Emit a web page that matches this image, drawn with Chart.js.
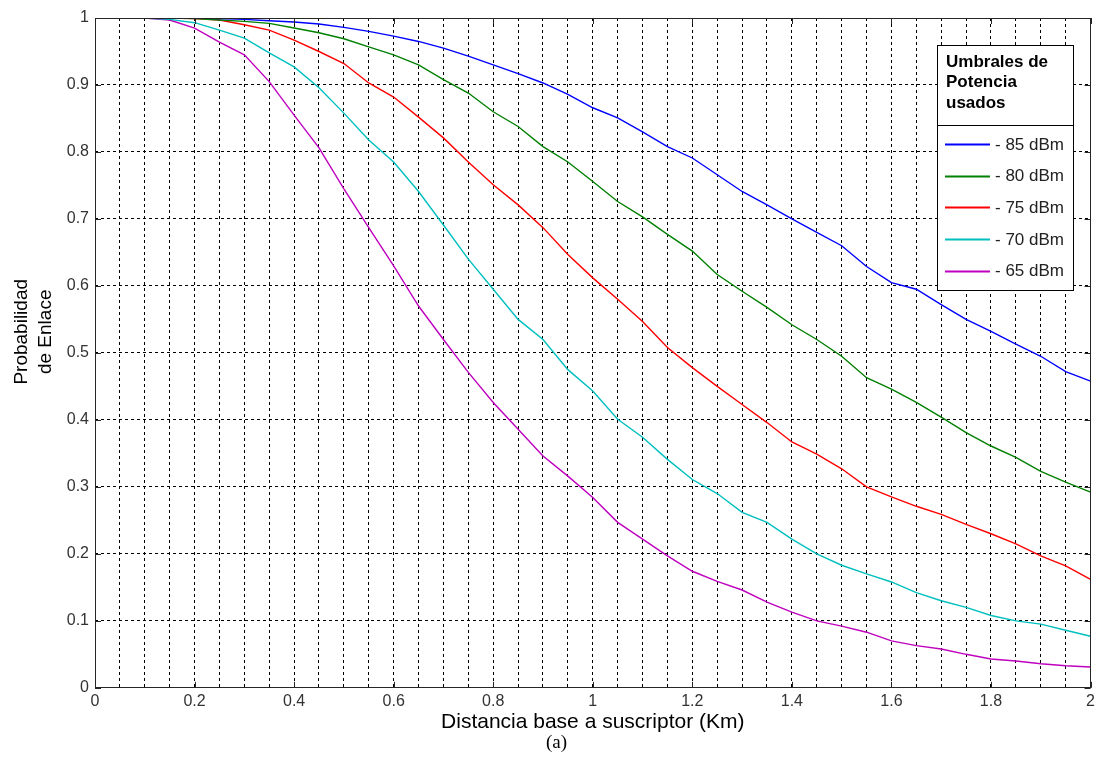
<!DOCTYPE html>
<html>
<head>
<meta charset="utf-8">
<script src="https://cdn.jsdelivr.net/npm/chart.js@4.4.1/dist/chart.umd.min.js"></script>
<style>
html,body{margin:0;padding:0;background:#ffffff;}
canvas{display:block;}
</style>
</head>
<body>
<canvas id="c" width="1099" height="769"></canvas>
<script>
// ---- Data ----
const distanciaKm = [0,0.05,0.1,0.15,0.2,0.25,0.3,0.35,0.4,0.45,0.5,0.55,0.6,0.65,0.7,0.75,0.8,0.85,0.9,0.95,1.0,
  1.05,1.1,1.15,1.2,1.25,1.3,1.35,1.4,1.45,1.5,1.55,1.6,1.65,1.7,1.75,1.8,1.85,1.9,1.95,2.0];

const seriesLabels = ['- 85 dBm', '- 80 dBm', '- 75 dBm', '- 70 dBm', '- 65 dBm'];
const seriesColors = ['#0000ff', '#008000', '#ff0000', '#00bfbf', '#bf00bf'];

const prob85 = [1,1,1,1,1,0.999,0.998,0.996,0.994,0.991,0.986,0.98,0.973,0.965,0.955,0.943,0.93,0.917,0.903,0.886,0.866,
  0.851,0.83,0.808,0.791,0.766,0.741,0.721,0.70,0.68,0.66,0.629,0.605,0.595,0.572,0.55,0.532,0.513,0.495,0.472,0.458];
const prob80 = [1,1,1,1,0.999,0.997,0.995,0.992,0.985,0.978,0.969,0.957,0.945,0.93,0.908,0.888,0.86,0.838,0.808,0.785,0.756,
  0.726,0.703,0.677,0.652,0.617,0.592,0.568,0.542,0.52,0.495,0.463,0.446,0.426,0.404,0.381,0.361,0.344,0.323,0.307,0.292];
const prob75 = [1,1,1,1,0.999,0.997,0.99,0.982,0.967,0.95,0.932,0.903,0.882,0.852,0.821,0.785,0.751,0.721,0.687,0.647,0.612,
  0.58,0.547,0.508,0.478,0.45,0.423,0.396,0.367,0.349,0.327,0.30,0.285,0.271,0.259,0.244,0.23,0.215,0.197,0.182,0.162];
const prob70 = [1,1,1,0.998,0.993,0.982,0.97,0.948,0.927,0.896,0.858,0.818,0.785,0.741,0.691,0.64,0.595,0.55,0.52,0.475,0.443,
  0.401,0.374,0.341,0.311,0.29,0.262,0.247,0.222,0.20,0.183,0.17,0.158,0.142,0.13,0.12,0.108,0.10,0.095,0.086,0.077];
const prob65 = [1,1,1,0.997,0.985,0.964,0.945,0.905,0.855,0.806,0.745,0.687,0.63,0.57,0.52,0.471,0.426,0.386,0.346,0.316,0.284,
  0.247,0.222,0.197,0.174,0.159,0.146,0.128,0.113,0.10,0.092,0.083,0.07,0.063,0.058,0.05,0.043,0.04,0.036,0.033,0.031];

const xTickLabels = ['0','0.2','0.4','0.6','0.8','1','1.2','1.4','1.6','1.8','2'];
const yTickLabels = ['0','0.1','0.2','0.3','0.4','0.5','0.6','0.7','0.8','0.9','1'];
const legendTitle = ['Umbrales de', 'Potencia', 'usados'];
const xTitle = 'Distancia base a suscriptor (Km)';
const yTitle = ['Probabilidad', 'de Enlace'];
const figureCaption = '(a)';

// ---- build datasets ----
const allSeries = [prob85, prob80, prob75, prob70, prob65];
const datasets = allSeries.map((vals, i) => ({
  label: seriesLabels[i],
  data: distanciaKm.map((d, j) => ({x: d, y: vals[j]})),
  borderColor: seriesColors[i],
  backgroundColor: seriesColors[i],
  borderWidth: 1.4,
  pointRadius: 0,
  tension: 0,
  fill: false
}));

const FONT = "'Liberation Sans', Arial, sans-serif";
const fmt = v => String(Number(v.toFixed(2)));

// frame and inward major ticks (MATLAB box style)
const framePlugin = {
  id: 'frame',
  afterDatasetsDraw(chart) {
    const {ctx, chartArea: a, scales: {x, y}} = chart;
    ctx.save();
    ctx.setLineDash([]);
    ctx.strokeStyle = '#262626';
    ctx.lineWidth = 1;
    ctx.beginPath();
    xTickLabels.forEach(t => {
      const px = Math.round(x.getPixelForValue(parseFloat(t))) + 0.5;
      ctx.moveTo(px, a.bottom); ctx.lineTo(px, a.bottom - 6);
      ctx.moveTo(px, a.top); ctx.lineTo(px, a.top + 6);
    });
    yTickLabels.forEach(t => {
      const py = Math.round(y.getPixelForValue(parseFloat(t))) + 0.5;
      ctx.moveTo(a.left, py); ctx.lineTo(a.left + 6, py);
      ctx.moveTo(a.right, py); ctx.lineTo(a.right - 6, py);
    });
    ctx.stroke();
    ctx.strokeRect(Math.round(a.left) + 0.5, Math.round(a.top) + 0.5,
                   Math.round(a.right - a.left) - 1, Math.round(a.bottom - a.top) - 1);
    ctx.restore();
  }
};

// boxed legend with title, drawn from the datasets
const legendPlugin = {
  id: 'boxLegend',
  afterDraw(chart) {
    const ctx = chart.ctx;
    const L = 937.5, R = 1073.5, T = 45.5, M = 125.5, B = 290.5;
    ctx.save();
    ctx.setLineDash([]);
    ctx.fillStyle = '#ffffff';
    ctx.fillRect(L, T, R - L, B - T);
    ctx.strokeStyle = '#000000';
    ctx.lineWidth = 1;
    ctx.strokeRect(L, T, R - L, M - T);
    ctx.strokeRect(L, M, R - L, B - M);
    ctx.fillStyle = '#000000';
    ctx.font = "bold 17px " + FONT;
    ctx.textAlign = 'left';
    ctx.textBaseline = 'middle';
    legendTitle.forEach((s, i) => ctx.fillText(s, 946, 62 + i * 20.5));
    ctx.font = "17px " + FONT;
    chart.data.datasets.forEach((ds, i) => {
      const yy = 144 + i * 31.7;
      ctx.strokeStyle = ds.borderColor;
      ctx.lineWidth = 2;
      ctx.beginPath();
      ctx.moveTo(945, Math.round(yy) + 0.5);
      ctx.lineTo(990, Math.round(yy) + 0.5);
      ctx.stroke();
      ctx.fillStyle = '#222222';
      ctx.fillText(ds.label, 995, yy + 1);
    });
    ctx.restore();
  }
};

new Chart(document.getElementById('c'), {
  type: 'line',
  data: { datasets },
  plugins: [framePlugin, legendPlugin],
  options: {
    responsive: false,
    animation: false,
    devicePixelRatio: 1,
    layout: { padding: { left: 0, right: 5, top: 18, bottom: 0 } },
    plugins: {
      legend: { display: false },
      tooltip: { enabled: false },
      title: {
        display: true,
        position: 'bottom',
        text: '    ' + figureCaption,
        color: '#000000',
        font: { family: "'Liberation Serif', 'Times New Roman', serif", size: 19, weight: 'normal', lineHeight: 1.2 },
        padding: { top: 0, bottom: 15 }
      }
    },
    scales: {
      x: {
        type: 'linear',
        min: 0, max: 2,
        afterFit(scale) { scale.height = 43.4; },
        ticks: {
          stepSize: 0.05,
          autoSkip: false,
          maxRotation: 0,
          padding: 4,
          color: '#333333',
          font: { family: FONT, size: 16 },
          callback: v => { const s = fmt(v); return xTickLabels.includes(s) ? s : ''; }
        },
        grid: { color: '#000000', lineWidth: 1, drawTicks: false },
        border: { display: false, dash: [3, 3] },
        title: {
          display: true,
          text: xTitle,
          color: '#000000',
          font: { family: FONT, size: 21, lineHeight: 1.15 },
          padding: { top: 0, bottom: -3 }
        }
      },
      y: {
        type: 'linear',
        min: 0, max: 1,
        afterFit(scale) { scale.width = 95; },
        ticks: {
          stepSize: 0.1,
          padding: 6,
          color: '#333333',
          font: { family: FONT, size: 16 },
          callback: v => { const s = fmt(v); return yTickLabels.includes(s) ? s : ''; }
        },
        grid: { color: '#000000', lineWidth: 1, drawTicks: false },
        border: { display: false, dash: [3, 3] },
        title: {
          display: true,
          text: yTitle.map(s => '        ' + s),
          color: '#000000',
          font: { family: FONT, size: 19, lineHeight: 1.25 },
          padding: { top: 10, bottom: 0 }
        }
      }
    }
  }
});
</script>
</body>
</html>
